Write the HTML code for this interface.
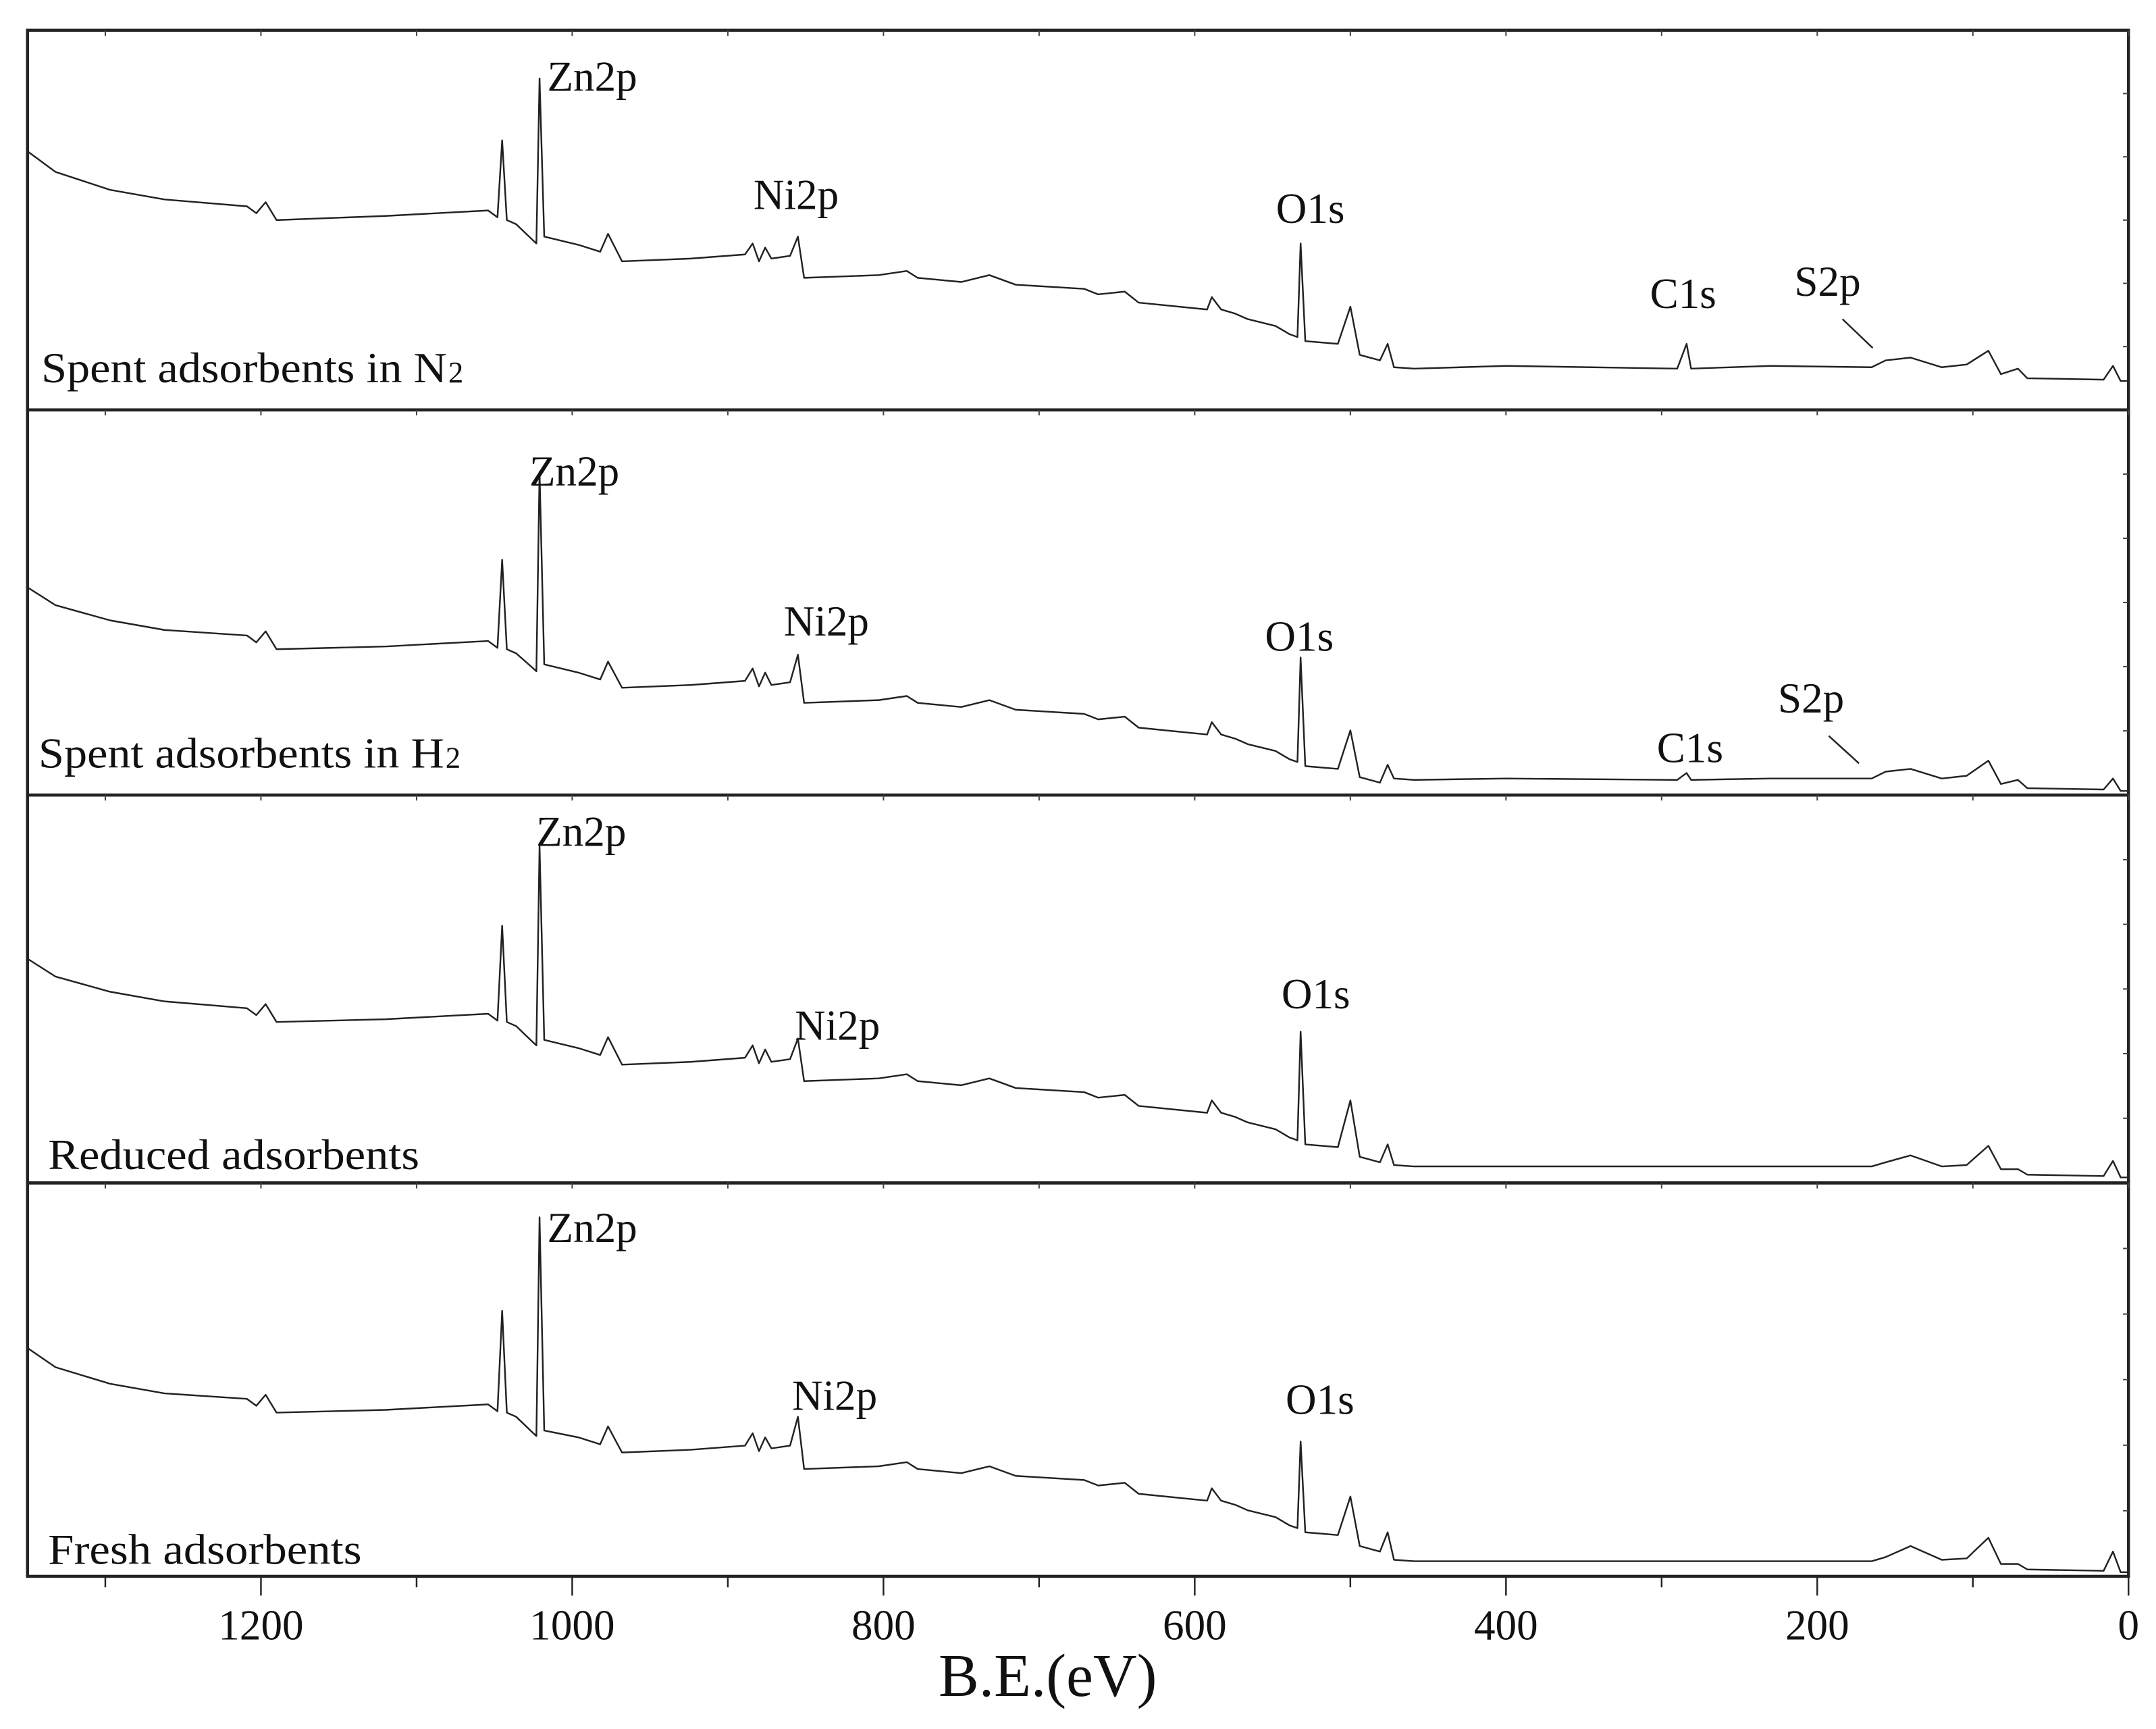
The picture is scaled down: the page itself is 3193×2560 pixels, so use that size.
<!DOCTYPE html>
<html><head><meta charset="utf-8"><style>
html,body{margin:0;padding:0;background:#fff;}
svg{display:block;}
text{font-family:"Liberation Serif",serif;fill:#111;}
</style></head><body>
<svg id="chart" width="3193" height="2560" viewBox="0 0 1568 1257" preserveAspectRatio="none" xmlns="http://www.w3.org/2000/svg">
<g id="frames"></g>
<g id="curves"></g>
<g id="labels"></g>
<g id="axis"></g>
</svg>
<script>
const energies = [1350,1332,1297,1262,1209,1203,1197,1190,1120,1054,1048,1045,1042,1036,1025,1023,1021,1018,996,982,977,968,924,889,884,880,876,872,860,855,851,803,785,778,750,732,715,671,662,645,636,592,589,583,574,566,548,539,534,532,529,508,500,494,481,476,472,459,400,290,284,281,230,165,156,140,120,104,90,82,71,65,16,10,5,0];
const spentN2 = [188,173,160,153,148,143,151,138,141,145,140,196,138,135,123,121,241,126,120,115,128,108,110,113,121,108,118,110,112,126,96,98,101,96,93,98,91,88,84,86,78,73,82,73,70,66,61,55,53,121,50,48,75,40,36,48,31,30,32,30,48,30,32,31,36,38,31,33,43,26,30,23,22,32,21,21];
const spentH2 = [151,138,127,120,116,111,119,106,108,112,107,171,106,103,92,90,235,95,89,84,97,78,80,83,92,79,89,80,82,102,67,69,72,67,64,69,62,59,55,57,49,44,53,44,41,37,32,26,24,100,21,19,47,13,9,22,12,11,12,11,16,11,12,12,17,19,12,14,25,8,11,5,4,12,3,3];
const reduced = [163,150,139,132,127,122,130,117,119,123,118,187,117,114,102,100,245,104,98,93,106,86,88,91,100,87,97,88,90,105,74,76,79,74,71,76,69,66,62,64,56,51,60,51,48,44,39,33,31,110,28,26,60,19,15,28,13,12,12,12,12,12,12,12,15,20,12,13,27,10,10,6,5,16,4,4];
const fresh = [166,152,140,133,129,124,132,119,121,125,120,193,119,116,104,102,261,106,101,96,109,90,92,95,104,91,101,93,95,116,78,80,83,78,75,80,73,70,66,68,60,55,64,55,52,48,43,37,35,98,32,30,58,22,18,32,12,11,11,11,11,11,11,11,14,22,12,13,28,9,9,5,4,18,3,3];
const tickValues = [1200,1000,800,600,400,200,0];
const tickLabels = ["1200","1000","800","600","400","200","0"];
const panelNames = ["Spent adsorbents in N","Spent adsorbents in H","Reduced adsorbents","Fresh adsorbents"];

const NS="http://www.w3.org/2000/svg";
const L=20,R=1548,Emax=1350;
const panels=[{t:22,b:298},{t:298,b:578},{t:578,b:860},{t:860,b:1146}];
function xs(e){return R-(R-L)*e/Emax;}
function ys(p,h){return panels[p].b-h;}
function mk(tag,attrs,parent){const el=document.createElementNS(NS,tag);for(const k in attrs)el.setAttribute(k,attrs[k]);parent.appendChild(el);return el;}
const frames=document.getElementById('frames'),curves=document.getElementById('curves'),labels=document.getElementById('labels'),axis=document.getElementById('axis');

panels.forEach((p,i)=>{
  const r=mk('rect',{x:L,y:p.t,width:R-L,height:p.b-p.t,fill:'none',stroke:'#222','stroke-width':2.2},frames);
  
  
  for(let v=0;v<=1300;v+=100){
    const t=mk('line',{x1:xs(v),x2:xs(v),y1:p.t,y2:p.t+4,stroke:'#444','stroke-width':1},frames);
    
    
  }
  for(let k=1;k<6;k++){
    const yy=p.t+(p.b-p.t)*k/6;
    const t=mk('line',{x1:R-4,x2:R,y1:yy,y2:yy,stroke:'#444','stroke-width':1},frames);
    
    
  }
});

const series=[spentN2,spentH2,reduced,fresh];
const seriesNames=['spectrum-spent-n2','spectrum-spent-h2','spectrum-reduced','spectrum-fresh'];
series.forEach((s,i)=>{
  const d=energies.map((e,j)=>(j?'L':'M')+xs(e).toFixed(1)+','+ys(i,s[j]).toFixed(1)).join(' ');
  const path=mk('path',{d:d,fill:'none',stroke:'#222','stroke-width':1.2,'stroke-linejoin':'round'},curves);
  
  
});

function txt(x,y,s,size,name,len){
  const t=mk('text',{x:x,y:y,'font-size':size},labels);
  if(len){t.setAttribute('textLength',len);t.setAttribute('lengthAdjust','spacingAndGlyphs');}
  t.textContent=s;
  
  
  return t;
}
const peakLabels=[
 [398,66,'Zn2p'],[548,152,'Ni2p'],[928,162,'O1s'],[1200,224,'C1s'],[1305,215,'S2p'],
 [385,353,'Zn2p'],[570,462,'Ni2p'],[920,473,'O1s'],[1205,554,'C1s'],[1293,518,'S2p'],
 [390,615,'Zn2p'],[578,756,'Ni2p'],[932,733,'O1s'],
 [398,903,'Zn2p'],[576,1025,'Ni2p'],[935,1028,'O1s']];
peakLabels.forEach(l=>txt(l[0],l[1],l[2],31,'peak-label-'+l[2].toLowerCase()));
[[1340,232,1362,253],[1330,535,1352,555]].forEach(c=>{
  const ln=mk('line',{x1:c[0],y1:c[1],x2:c[2],y2:c[3],stroke:'#222','stroke-width':1.2},labels);
  
  
});
const nameBase=[[30,278,295],[28,558,295],[35,850,270],[35,1137,228]];
panelNames.forEach((n,i)=>{
  const t=txt(nameBase[i][0],nameBase[i][1],n,31,'panel-label-'+(i+1),nameBase[i][2]);
  if(i<2){
    const sub=mk('text',{x:nameBase[i][0]+nameBase[i][2]+1,y:nameBase[i][1],'font-size':22},labels);
    sub.textContent='2';
    
    
  }
});

for(let v=0;v<=1300;v+=100){
  const major=v%200===0;
  const t=mk('line',{x1:xs(v),x2:xs(v),y1:1146,y2:major?1160:1154,stroke:'#222','stroke-width':1.2},axis);
  
  
}
tickValues.forEach((v,i)=>{
  const t=mk('text',{x:xs(v),y:1192,'font-size':31,'text-anchor':'middle'},axis);
  t.textContent=tickLabels[i];
  
  
});
const ttl=mk('text',{x:762,y:1233,'font-size':44,'text-anchor':'middle'},axis);
ttl.textContent='B.E.(eV)';


</script>
</body></html>
